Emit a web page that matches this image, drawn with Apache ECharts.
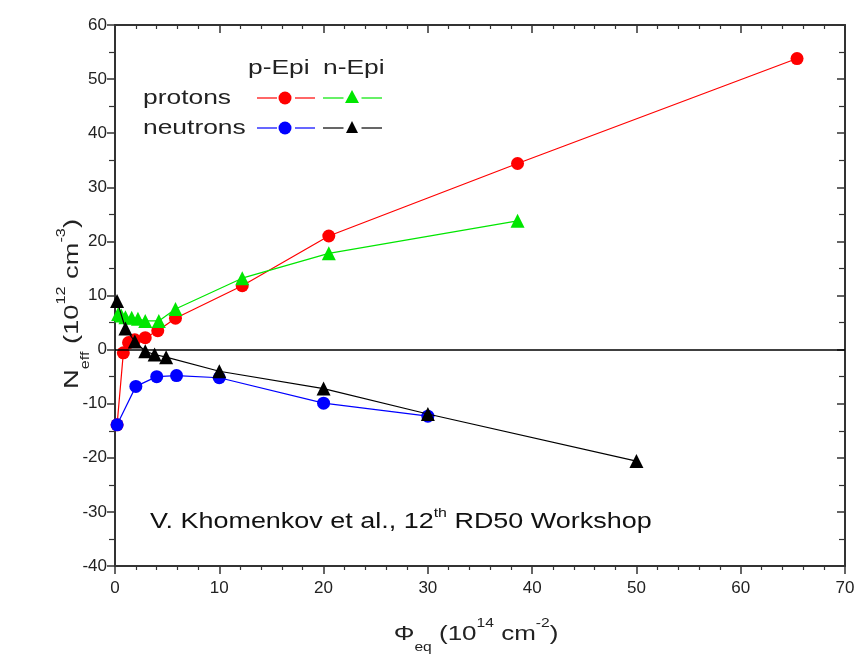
<!DOCTYPE html>
<html>
<head>
<meta charset="utf-8">
<script src="https://cdn.jsdelivr.net/npm/echarts@6/dist/echarts.min.js"></script>
<style>
  html, body { margin: 0; padding: 0; background: #fff; }
  #chart { width: 867px; height: 662px; }
</style>
</head>
<body>
<div id="chart"></div>
<script>
// Effective doping concentration vs. equivalent fluence, [fluence, Neff]
const protonsPEpi = [[0.2, -13.9], [0.8, -0.6], [1.3, 1.3], [1.9, 1.8], [2.9, 2.2], [4.1, 3.5], [5.8, 5.8], [12.2, 11.8], [20.5, 21.0], [38.6, 34.4], [65.4, 53.8]];
const protonsNEpi = [[0.3, 6.6], [0.6, 6.3], [1.0, 6.0], [1.6, 5.9], [2.2, 5.7], [2.9, 5.3], [4.2, 5.3], [5.8, 7.5], [12.2, 13.2], [20.5, 17.8], [38.6, 23.8]];
const neutronsPEpi = [[0.2, -13.9], [2.0, -6.8], [4.0, -5.0], [5.9, -4.8], [10.0, -5.2], [20.0, -9.9], [30.0, -12.3]];
const neutronsNEpi = [[0.2, 9.0], [1.0, 3.9], [1.9, 1.5], [2.9, -0.3], [3.8, -0.9], [4.9, -1.4], [10.0, -4.0], [20.0, -7.2], [30.0, -11.9], [50.0, -20.6]];

const xTicks = { min: 0, max: 70, interval: 10 };
const yTicks = { min: -40, max: 60, interval: 10 };

const FONT = '"Liberation Sans", Arial, sans-serif';
const AXIS_COLOR = '#333';
const TEXT_COLOR = '#222';

const chart = echarts.init(document.getElementById('chart'), null, { renderer: 'canvas' });

function lineSeries(name, data, color, symbol, size, z) {
  return {
    name, type: 'line', data,
    xAxisIndex: 0, yAxisIndex: 0,
    symbol, symbolSize: size,
    itemStyle: { color },
    lineStyle: { color, width: 1.2 },
    z,
    animation: false
  };
}

const axisLineStyle = { show: true, onZero: false, lineStyle: { color: AXIS_COLOR, width: 2 } };
const tickStyle = { color: AXIS_COLOR, width: 1.5 };
const minorStyle = { color: AXIS_COLOR, width: 1.2 };

// rich styles shared by the titles (subscripts / superscripts)
function titleRich(size) {
  return {
    b: { fontSize: size, fontFamily: FONT, fill: TEXT_COLOR, lineHeight: 30, verticalAlign: 'middle' },
    sub: { fontSize: Math.round(size * 0.6), fontFamily: FONT, fill: TEXT_COLOR, lineHeight: 30, verticalAlign: 'bottom', padding: [0, 0, -5, 0] },
    sup: { fontSize: Math.round(size * 0.6), fontFamily: FONT, fill: TEXT_COLOR, lineHeight: 30, verticalAlign: 'top', padding: [-1, 0, 0, 0] }
  };
}

function legendText(text, x, y) {
  return {
    type: 'text', x, y, scaleX: 1.32,
    style: { text, fontSize: 20, fontFamily: FONT, fill: TEXT_COLOR, align: 'left', verticalAlign: 'middle' }
  };
}

function legendLine(x1, x2, y, color) {
  const mid = (x1 + x2) / 2;
  return [
    { type: 'line', shape: { x1, y1: y, x2: mid - 9, y2: y }, style: { stroke: color, lineWidth: 1.2 } },
    { type: 'line', shape: { x1: mid + 9, y1: y, x2, y2: y }, style: { stroke: color, lineWidth: 1.2 } }
  ];
}

const option = {
  backgroundColor: '#fff',
  animation: false,
  grid: { left: 115, right: 22, top: 25, bottom: 96, containLabel: false },
  xAxis: [
    {
      type: 'value', position: 'bottom', ...xTicks,
      axisLine: axisLineStyle,
      axisTick: { show: true, inside: false, length: 8, lineStyle: tickStyle },
      minorTick: { show: true, splitNumber: 5, length: 4, lineStyle: minorStyle },
      splitLine: { show: false },
      axisLabel: { color: TEXT_COLOR, fontSize: 17, fontFamily: FONT, margin: 14 }
    },
    {
      type: 'value', position: 'top', ...xTicks,
      axisLine: axisLineStyle,
      axisTick: { show: true, inside: true, length: 8, lineStyle: tickStyle },
      minorTick: { show: true, splitNumber: 5, length: 4, lineStyle: minorStyle },
      splitLine: { show: false },
      axisLabel: { show: false }
    }
  ],
  yAxis: [
    {
      type: 'value', position: 'left', ...yTicks,
      axisLine: axisLineStyle,
      axisTick: { show: true, inside: false, length: 8, lineStyle: tickStyle },
      minorTick: { show: true, splitNumber: 2, length: 6, lineStyle: minorStyle },
      splitLine: { show: false },
      axisLabel: { color: TEXT_COLOR, fontSize: 17, fontFamily: FONT, margin: 8 }
    },
    {
      type: 'value', position: 'right', ...yTicks,
      axisLine: axisLineStyle,
      axisTick: { show: true, inside: true, length: 8, lineStyle: tickStyle },
      minorTick: { show: true, splitNumber: 2, length: 6, lineStyle: minorStyle },
      splitLine: { show: false },
      axisLabel: { show: false }
    }
  ],
  series: [
    {
      name: 'zero', type: 'line', data: [], z: 1,
      markLine: {
        silent: true, symbol: 'none', animation: false,
        label: { show: false },
        lineStyle: { color: '#000', width: 1.5, type: 'solid' },
        data: [{ yAxis: 0 }]
      }
    },
    lineSeries('protons p-Epi', protonsPEpi, '#ff0000', 'circle', 13, 2),
    lineSeries('protons n-Epi', protonsNEpi, '#00e600', 'triangle', 14, 3),
    lineSeries('neutrons p-Epi', neutronsPEpi, '#0000ff', 'circle', 13, 4),
    lineSeries('neutrons n-Epi', neutronsNEpi, '#000000', 'triangle', 14, 5)
  ],
  graphic: [
    // axis titles
    {
      type: 'text', x: 476, y: 634, scaleX: 1.3,
      style: { text: '{b|Φ}{sub|eq}{b| (10}{sup|14}{b| cm}{sup|-2}{b|)}', align: 'center', verticalAlign: 'middle', rich: titleRich(20) }
    },
    {
      type: 'text', x: 72, y: 304, rotation: Math.PI / 2, scaleX: 1.36,
      style: { text: '{b|N}{sub|eff}{b| (10}{sup|12}{b| cm}{sup|-3}{b|)}', align: 'center', verticalAlign: 'middle', rich: titleRich(20) }
    },
    // legend: column headers and row labels
    legendText('p-Epi', 248, 68),
    legendText('n-Epi', 323, 68),
    legendText('protons', 143, 98),
    legendText('neutrons', 143, 128),
    // legend: protons p-Epi
    ...legendLine(257, 315, 98, '#ff0000'),
    { type: 'circle', shape: { cx: 285, cy: 98, r: 6.5 }, style: { fill: '#ff0000' } },
    // legend: protons n-Epi
    ...legendLine(323, 382, 98, '#00e600'),
    { type: 'polygon', shape: { points: [[352, 90], [359, 103], [345, 103]] }, style: { fill: '#00e600' } },
    // legend: neutrons p-Epi
    ...legendLine(257, 315, 128, '#0000ff'),
    { type: 'circle', shape: { cx: 285, cy: 128, r: 6.5 }, style: { fill: '#0000ff' } },
    // legend: neutrons n-Epi
    ...legendLine(323, 382, 128, '#000'),
    { type: 'polygon', shape: { points: [[352, 121], [358, 133], [346, 133]] }, style: { fill: '#000' } },
    // source note
    {
      type: 'text', x: 150, y: 522, scaleX: 1.225,
      style: {
        text: '{b|V. Khomenkov et al., 12}{sup|th}{b| RD50 Workshop}',
        align: 'left', verticalAlign: 'middle',
        rich: {
          b: { fontSize: 22, fontFamily: FONT, fill: '#111', lineHeight: 30, verticalAlign: 'middle' },
          sup: { fontSize: 13, fontFamily: FONT, fill: '#111', lineHeight: 30, verticalAlign: 'top', padding: [0, 0, 0, 0] }
        }
      }
    }
  ]
};

chart.setOption(option);
</script>
</body>
</html>
